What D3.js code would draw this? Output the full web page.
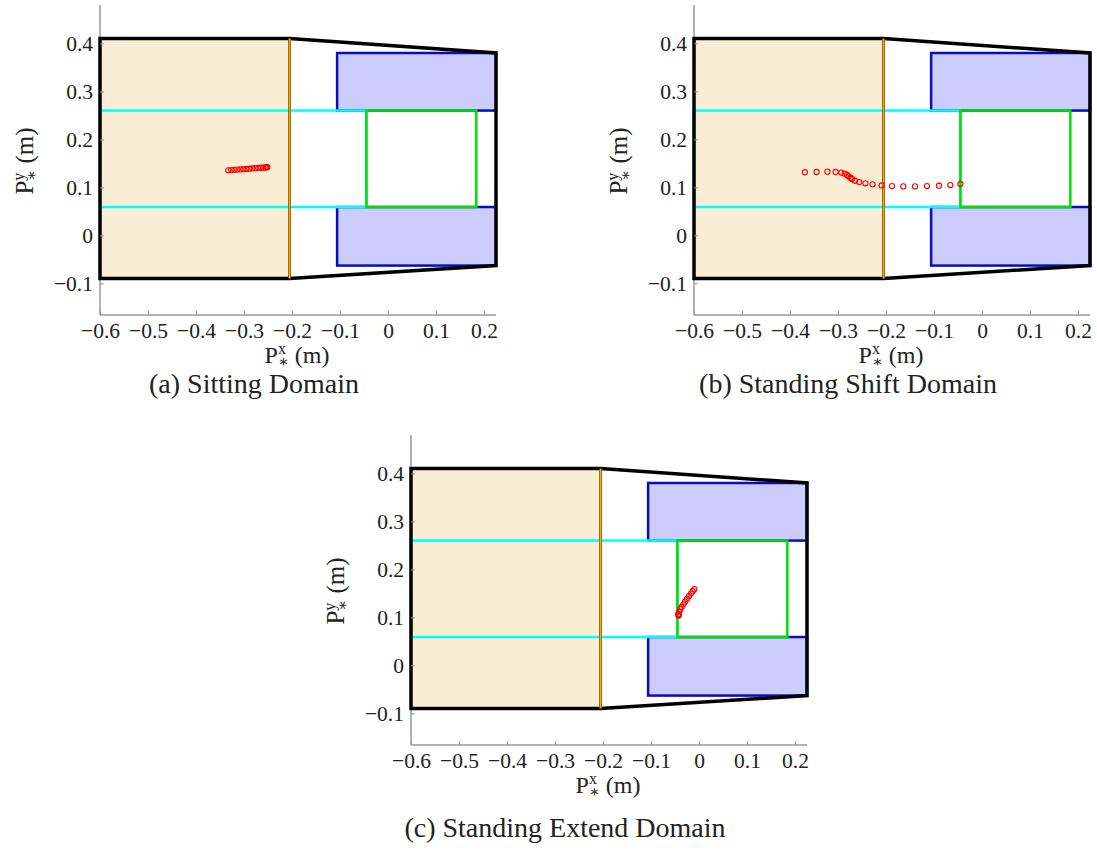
<!DOCTYPE html>
<html>
<head>
<meta charset="utf-8">
<script src="https://cdn.jsdelivr.net/npm/d3@7"></script>
<style>
  html, body { margin: 0; padding: 0; background: #fff; }
  svg { display: block; }
  text { font-family: "Liberation Serif", "DejaVu Serif", serif; fill: #222; }
</style>
</head>
<body>
<svg id="chart" width="1097" height="861"></svg>
<script>
// Axis ticks (m)
const xTicks = [-0.6, -0.5, -0.4, -0.3, -0.2, -0.1, 0, 0.1, 0.2];
const yTicks = [-0.1, 0, 0.1, 0.2, 0.3, 0.4];
const xDomain = [-0.6, 0.225];
const yDomain = [-0.166, 0.48];

// Support region boundary (black outline)
const boundaryX = [-0.6, -0.205, 0.225, 0.225, -0.205, -0.6];
const boundaryY = [0.41, 0.41, 0.38, -0.063, -0.09, -0.09];

// Seat region
const seatX = [-0.6, -0.205];
const seatY = [-0.09, 0.41];

// Feet regions
const footUpperX = [-0.106, 0.225];
const footUpperY = [0.26, 0.38];
const footLowerX = [-0.106, 0.225];
const footLowerY = [-0.063, 0.059];

// Shift band (cyan) and extend box (green)
const shiftX = [-0.6, -0.045];
const shiftY = [0.059, 0.26];
const extendX = [-0.045, 0.184];
const extendY = [0.059, 0.26];

// CoM trajectories
const sittingX = [-0.3327, -0.3265, -0.3202, -0.314, -0.3077, -0.3015, -0.2952, -0.289, -0.2827, -0.2765, -0.2702, -0.264, -0.2598, -0.2556, -0.2535, -0.2515];
const sittingY = [0.1355, 0.1360, 0.1365, 0.1370, 0.1374, 0.1379, 0.1384, 0.1389, 0.1394, 0.1399, 0.1404, 0.1408, 0.1412, 0.1415, 0.1418, 0.1420];

const shiftTrajX = [-0.369, -0.3446, -0.322, -0.305, -0.293, -0.286, -0.281, -0.278, -0.274, -0.271, -0.2646, -0.2556, -0.243, -0.228, -0.209, -0.1875, -0.164, -0.1396, -0.1146, -0.0896, -0.066, -0.045];
const shiftTrajY = [0.1315, 0.132, 0.1327, 0.132, 0.1307, 0.1286, 0.1258, 0.123, 0.120, 0.1174, 0.1138, 0.111, 0.1084, 0.1063, 0.104, 0.1027, 0.102, 0.102, 0.1027, 0.1034, 0.1048, 0.107];

const extendTrajX = [-0.0425, -0.0431, -0.0425, -0.041, -0.039, -0.0362, -0.0327, -0.0292, -0.025, -0.0208, -0.0167, -0.0133, -0.0098];
const extendTrajY = [0.1034, 0.107, 0.105, 0.1118, 0.1167, 0.1216, 0.1272, 0.1327, 0.1384, 0.144, 0.1495, 0.1545, 0.1587];

const panels = [
  { caption: "(a) Sitting Domain", dx: 0, dy: 0, capY: 393, tx: sittingX, ty: sittingY },
  { caption: "(b) Standing Shift Domain", dx: 594, dy: 0, capY: 393, tx: shiftTrajX, ty: shiftTrajY },
  { caption: "(c) Standing Extend Domain", dx: 311, dy: 430, capY: 407, tx: extendTrajX, ty: extendTrajY }
];

const svg = d3.select("#chart");
const fmt = d => d === 0 ? "0" : d3.format(".1f")(d);

panels.forEach(p => {
  const g = svg.append("g").attr("transform", `translate(${p.dx},${p.dy})`);
  const x = d3.scaleLinear().domain(xDomain).range([100, 496]);
  const y = d3.scaleLinear().domain(yDomain).range([315, 5]);

  const rect = (xs, ys) => ({
    x: x(xs[0]), y: y(ys[1]), w: x(xs[1]) - x(xs[0]), h: y(ys[0]) - y(ys[1])
  });

  // axes
  const axL = g.append("g").attr("transform", "translate(100,0)")
    .call(d3.axisLeft(y).tickValues(yTicks).tickFormat(fmt).tickSize(-4).tickSizeOuter(0).tickPadding(7));
  const axB = g.append("g").attr("transform", "translate(0,315)")
    .call(d3.axisBottom(x).tickValues(xTicks).tickFormat(fmt).tickSize(-4).tickSizeOuter(0).tickPadding(8));
  [axL, axB].forEach(a => {
    a.attr("font-family", null);
    a.selectAll(".tick line").attr("stroke", "#999").attr("stroke-width", 1);
    a.selectAll(".tick text").attr("font-size", 21.5).attr("fill", "#222");
  });

  // seat region
  const s = rect(seatX, seatY);
  g.append("rect").attr("x", s.x).attr("y", s.y).attr("width", s.w).attr("height", s.h)
    .attr("fill", "#f9edd3");

  // feet regions
  [[footUpperX, footUpperY], [footLowerX, footLowerY]].forEach(([xs, ys]) => {
    const r = rect(xs, ys);
    g.append("rect").attr("x", r.x).attr("y", r.y).attr("width", r.w).attr("height", r.h)
      .attr("fill", "#ccccff").attr("stroke", "#0a0ac0").attr("stroke-width", 2.5);
  });

  // shift band
  const c = rect(shiftX, shiftY);
  g.append("rect").attr("x", c.x).attr("y", c.y).attr("width", c.w).attr("height", c.h)
    .attr("fill", "none").attr("stroke", "#00ffff").attr("stroke-width", 2.5);

  // extend box
  const e = rect(extendX, extendY);
  g.append("rect").attr("x", e.x).attr("y", e.y).attr("width", e.w).attr("height", e.h)
    .attr("fill", "none").attr("stroke", "#00e000").attr("stroke-width", 2.5);

  // support boundary
  const pts = boundaryX.map((v, i) => [x(v), y(boundaryY[i])]);
  g.append("path").attr("d", d3.line()(pts) + "Z")
    .attr("fill", "none").attr("stroke", "#000").attr("stroke-width", 3.5).attr("stroke-linejoin", "miter");

  // seat edge
  g.append("line").attr("x1", x(seatX[1])).attr("x2", x(seatX[1]))
    .attr("y1", y(seatY[0])).attr("y2", y(seatY[1]))
    .attr("stroke", "#3a2600").attr("stroke-width", 2.8);
  g.append("line").attr("x1", x(seatX[1])).attr("x2", x(seatX[1]))
    .attr("y1", y(seatY[0])).attr("y2", y(seatY[1]))
    .attr("stroke", "#ffa800").attr("stroke-width", 1.9);

  // ticks on top of the fills; axis lines underneath
  axL.raise(); axB.raise();
  axL.select(".domain").remove();
  axB.select(".domain").remove();
  g.insert("line", ":first-child").attr("x1", 100).attr("x2", 100).attr("y1", 5).attr("y2", 315)
    .attr("stroke", "#666").attr("stroke-width", 1);
  g.insert("line", ":first-child").attr("x1", 100).attr("x2", 496).attr("y1", 315).attr("y2", 315)
    .attr("stroke", "#666").attr("stroke-width", 1);

  // trajectory
  g.append("g").selectAll("circle").data(p.tx.map((v, i) => [v, p.ty[i]]))
    .join("circle")
    .attr("cx", d => x(d[0])).attr("cy", d => y(d[1])).attr("r", 2.6)
    .attr("fill", "none").attr("stroke", "#ff0000").attr("stroke-width", 1.1);

  // axis titles
  const xl = g.append("text").attr("x", 297).attr("y", 363).attr("text-anchor", "middle").attr("font-size", 24);
  xl.append("tspan").text("P");
  xl.append("tspan").attr("font-size", 16).attr("dy", -9).text("x");
  xl.append("tspan").attr("font-size", 16).attr("dx", -8).attr("dy", 13).text("∗");
  xl.append("tspan").attr("dy", -4).text(" (m)");

  const yl = g.append("text").attr("transform", "translate(33,161) rotate(-90)")
    .attr("text-anchor", "middle").attr("font-size", 25);
  yl.append("tspan").text("P");
  yl.append("tspan").attr("font-size", 16).attr("dy", -9).text("y");
  yl.append("tspan").attr("font-size", 16).attr("dx", -8).attr("dy", 13).text("∗");
  yl.append("tspan").attr("dy", -4).text(" (m)");

  // caption
  g.append("text").attr("x", 254).attr("y", p.capY).attr("text-anchor", "middle")
    .attr("font-size", 28).text(p.caption);
});
</script>
</body>
</html>
